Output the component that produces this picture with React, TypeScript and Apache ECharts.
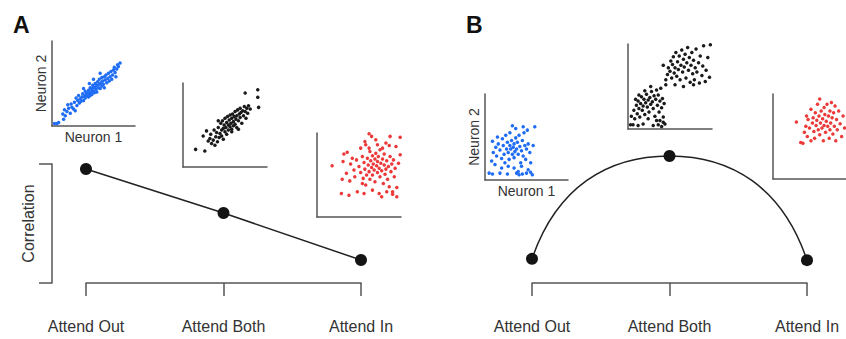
import React, { useEffect, useRef } from "react";
import * as echarts from "echarts";

// Main panels
const catLabels = ["Attend Out", "Attend Both", "Attend In"];
const corrA = [0.958, 0.588, 0.193];
const corrB = [0.19, 1.0, 0.18];

// Inset scatter clouds (normalised 0-100 in each inset)
const a1Blue = [[3,3],[6,3],[8,4],[14,8],[13,14],[16,12],[18,17],[15,19],[20,21],[22,15],[24,22],[19,25],[26,20],[27,28],[23,26],[28,18],[30,24],[31,30],[29,33],[33,27],[34,32],[35,29],[32,36],[36,34],[37,38],[38,30],[39,35],[40,33],[41,37],[40,41],[42,36],[43,39],[44,34],[44,42],[45,38],[46,45],[46,36],[47,40],[48,43],[48,37],[49,48],[50,41],[50,45],[51,39],[52,46],[52,50],[53,43],[54,48],[54,40],[55,52],[56,45],[57,49],[57,55],[58,44],[59,51],[60,47],[60,57],[61,53],[62,49],[63,58],[63,45],[64,54],[65,60],[66,51],[67,56],[68,62],[69,53],[70,58],[71,64],[72,55],[73,60],[74,66],[76,63],[77,58],[78,67],[80,70],[82,74],[79,72],[75,69],[58,62],[45,50],[38,44],[50,55]];
const a2Black = [[15,21],[26,19],[24,37],[28,43],[32,34],[30,31],[34,28],[33,39],[36,32],[37,44],[38,26],[39,36],[40,41],[41,30],[42,47],[43,35],[44,40],[45,52],[46,44],[46,37],[47,55],[48,46],[48,33],[49,50],[50,42],[50,58],[51,47],[52,53],[52,39],[53,60],[54,50],[54,44],[55,56],[56,48],[56,62],[57,52],[58,58],[58,45],[59,63],[60,54],[60,49],[61,60],[62,66],[62,51],[63,57],[64,61],[64,47],[65,68],[66,55],[67,63],[68,59],[68,70],[69,65],[70,52],[71,67],[72,61],[73,72],[74,66],[75,58],[76,70],[77,64],[78,73],[80,69],[74,88],[89,92],[89,83],[90,71],[58,42],[42,55],[66,45]];
const a3Red = [[18,61],[29,28],[38,26],[56,28],[77,24],[95,24],[62,99],[65,96],[87,96],[99,95],[32,75],[36,77],[31,66],[40,63],[44,56],[35,52],[30,45],[39,43],[45,48],[47,68],[50,60],[52,53],[54,72],[55,46],[56,65],[57,57],[58,38],[59,50],[60,70],[61,62],[62,54],[63,78],[63,45],[64,67],[65,59],[66,73],[66,50],[67,63],[68,56],[69,69],[69,42],[70,76],[71,61],[72,53],[72,66],[73,72],[74,58],[75,48],[75,80],[76,64],[77,55],[78,69],[79,40],[80,62],[80,75],[81,51],[82,57],[83,67],[84,45],[85,60],[86,36],[87,72],[88,54],[89,63],[90,30],[91,68],[92,48],[93,58],[95,35],[97,64],[99,74],[58,86],[57,90],[72,86],[82,88],[86,85],[48,30],[66,32],[74,28],[83,30],[90,27],[42,70],[52,82],[62,82],[78,82],[94,84],[70,92],[54,40]];
const b1Blue = [[5,8],[9,7],[18,8],[27,7],[38,8],[41,6],[45,7],[50,8],[55,9],[57,6],[40,10],[52,12],[8,22],[12,18],[14,28],[10,32],[13,38],[16,42],[9,45],[18,35],[20,25],[21,48],[22,40],[23,30],[24,20],[25,52],[26,36],[27,44],[28,32],[29,24],[30,55],[30,40],[31,36],[32,46],[33,30],[34,38],[35,42],[35,26],[36,33],[37,49],[37,60],[38,36],[39,44],[40,30],[41,52],[42,39],[43,20],[44,34],[45,46],[46,28],[47,55],[48,40],[49,24],[50,36],[51,58],[52,42],[54,32],[55,20],[58,40],[60,62],[46,62],[33,63],[28,16],[35,14],[44,16],[15,50],[20,14]];
const b2Black = [[3,5],[6,5],[12,4],[18,6],[30,4],[36,5],[40,3],[42,8],[38,10],[44,6],[4,15],[7,22],[8,12],[10,28],[11,18],[12,33],[13,24],[14,14],[15,30],[16,38],[17,22],[18,27],[19,35],[20,17],[21,31],[22,41],[23,26],[24,34],[25,20],[26,37],[27,29],[28,44],[29,32],[30,24],[31,39],[32,15],[33,35],[34,46],[35,28],[36,40],[37,20],[38,33],[39,48],[40,25],[41,36],[42,14],[43,30],[45,52],[34,10],[24,12],[27,50],[20,45],[13,40],[9,35],[42,75],[45,58],[47,64],[48,72],[50,68],[51,80],[52,60],[53,76],[54,85],[55,66],[56,72],[57,90],[58,62],[59,79],[60,70],[61,86],[62,58],[63,75],[64,93],[65,67],[66,82],[67,73],[68,88],[69,60],[70,78],[71,96],[72,69],[73,84],[74,55],[75,75],[76,90],[77,65],[78,81],[79,58],[80,72],[81,94],[82,67],[84,78],[85,54],[86,86],[88,63],[89,74],[90,98],[92,56],[93,69],[95,84],[97,61],[98,99],[78,52],[66,50],[56,52]];
const b3Red = [[32,67],[38,43],[41,42],[43,55],[45,62],[46,74],[47,50],[48,70],[50,60],[52,82],[52,45],[54,66],[55,72],[56,56],[57,48],[58,78],[59,63],[60,69],[61,88],[62,58],[63,74],[64,94],[64,52],[65,66],[66,80],[67,60],[68,71],[69,45],[70,84],[70,63],[71,76],[72,55],[73,68],[74,88],[75,62],[76,74],[77,48],[78,80],[78,58],[79,66],[80,90],[81,72],[82,53],[83,78],[84,62],[85,86],[86,45],[87,70],[88,58],[90,80],[92,65],[94,50],[96,74],[98,60]];

const FONT = "Liberation Sans, Arial, Helvetica, sans-serif";
const AXIS_COLOR = "#555";
const TEXT_COLOR = "#333";

export default function App() {
  const ref = useRef<HTMLDivElement>(null);
  useEffect(() => {
    if (!ref.current) return;
    const chart = echarts.init(ref.current, null, { renderer: "svg" });

    const insetGrids = [
      { left: 52, top: 41, width: 83, height: 85 },
      { left: 183, top: 83, width: 84, height: 84 },
      { left: 317, top: 133, width: 84, height: 84 },
      { left: 485, top: 94, width: 83, height: 86 },
      { left: 628, top: 44, width: 84, height: 85 },
      { left: 773, top: 94, width: 84, height: 85 },
    ];
    const insetData = [a1Blue, a2Black, a3Red, b1Blue, b2Black, b3Red];
    const insetColors = ["#1f6cf5", "#1a1a1a", "#ec3a3a", "#1f6cf5", "#1a1a1a", "#ec3a3a"];
    const named = [true, false, false, true, false, false];

    const grids: any[] = [
      { left: 86, top: 164, width: 275, height: 119 },
      { left: 532, top: 156, width: 275, height: 127 },
      ...insetGrids,
    ];

    const bracketX = (gi: number) => ({
      type: "category",
      gridIndex: gi,
      data: catLabels,
      boundaryGap: false,
      offset: 16,
      axisLine: { show: true, lineStyle: { color: AXIS_COLOR, width: 1.5 } },
      axisTick: { show: true, length: 13, interval: 0, lineStyle: { color: AXIS_COLOR, width: 1.5 } },
      axisLabel: { show: true, interval: 0, margin: 19, color: TEXT_COLOR, fontSize: 16, fontFamily: FONT },
      splitLine: { show: false },
    });

    const xAxes: any[] = [bracketX(0), bracketX(1)];
    const yAxes: any[] = [
      {
        type: "value",
        gridIndex: 0,
        min: 0,
        max: 1,
        interval: 1,
        offset: 34,
        axisLine: { show: true, onZero: false, lineStyle: { color: AXIS_COLOR, width: 1.5 } },
        axisTick: { show: true, length: 13, lineStyle: { color: AXIS_COLOR, width: 1.5 } },
        axisLabel: { show: false },
        splitLine: { show: false },
        name: "Correlation",
        nameLocation: "middle",
        nameRotate: 90,
        nameGap: 16,
        nameTextStyle: { fontSize: 16, color: TEXT_COLOR, fontFamily: FONT },
      },
      { type: "value", gridIndex: 1, min: 0, max: 1, show: false },
    ];

    insetGrids.forEach((_, k) => {
      const gi = k + 2;
      xAxes.push({
        type: "value",
        gridIndex: gi,
        min: 0,
        max: 100,
        axisLine: { show: true, onZero: false, lineStyle: { color: AXIS_COLOR, width: 1.5 } },
        axisTick: { show: false },
        axisLabel: { show: false },
        splitLine: { show: false },
        name: named[k] ? "Neuron 1" : "",
        nameLocation: "middle",
        nameGap: 4,
        nameTextStyle: { fontSize: 14, color: TEXT_COLOR, fontFamily: FONT },
      });
      yAxes.push({
        type: "value",
        gridIndex: gi,
        min: 0,
        max: 100,
        axisLine: { show: true, onZero: false, lineStyle: { color: AXIS_COLOR, width: 1.5 } },
        axisTick: { show: false },
        axisLabel: { show: false },
        splitLine: { show: false },
        name: named[k] ? "Neuron 2" : "",
        nameLocation: "middle",
        nameRotate: 90,
        nameGap: 4,
        nameTextStyle: { fontSize: 14, color: TEXT_COLOR, fontFamily: FONT },
      });
    });

    const series: any[] = [
      {
        type: "line",
        xAxisIndex: 0,
        yAxisIndex: 0,
        data: corrA,
        symbol: "circle",
        symbolSize: 12,
        lineStyle: { color: "#222", width: 1.5 },
        itemStyle: { color: "#141414", opacity: 1 },
        z: 3,
      },
      {
        type: "custom",
        xAxisIndex: 1,
        yAxisIndex: 1,
        data: corrB.map((v, i) => [i, v]),
        clip: false,
        renderItem: (params: any, api: any) => {
          const i = params.dataIndex;
          if (i >= corrB.length - 1) return null;
          const p0 = api.coord([i, corrB[i]]);
          const p1 = api.coord([i + 1, corrB[i + 1]]);
          const dx = p1[0] - p0[0];
          const dy = p1[1] - p0[1];
          let cp1: number[];
          let cp2: number[];
          if (dy < 0) {
            cp1 = [p0[0] + 0.18 * dx, p0[1] + 0.7 * dy];
            cp2 = [p1[0] - 0.45 * dx, p1[1]];
          } else {
            cp1 = [p0[0] + 0.45 * dx, p0[1]];
            cp2 = [p1[0] - 0.18 * dx, p1[1] - 0.7 * dy];
          }
          return {
            type: "bezierCurve",
            shape: {
              x1: p0[0], y1: p0[1], x2: p1[0], y2: p1[1],
              cpx1: cp1[0], cpy1: cp1[1], cpx2: cp2[0], cpy2: cp2[1],
            },
            style: { stroke: "#222", lineWidth: 1.5, fill: "none" },
          };
        },
        z: 2,
      },
      {
        type: "scatter",
        xAxisIndex: 1,
        yAxisIndex: 1,
        data: corrB,
        symbol: "circle",
        symbolSize: 12,
        itemStyle: { color: "#141414", opacity: 1 },
        z: 4,
      },
    ];

    insetData.forEach((d, k) => {
      series.push({
        type: "scatter",
        xAxisIndex: k + 2,
        yAxisIndex: k + 2,
        data: d,
        symbol: "circle",
        symbolSize: 3.5,
        itemStyle: { color: insetColors[k], opacity: 1 },
        clip: false,
      });
    });

    chart.setOption({
      animation: false,
      backgroundColor: "#ffffff",
      title: [
        { text: "A", left: 8, top: 8, textStyle: { fontSize: 23, fontWeight: "bold", color: "#111", fontFamily: FONT } },
        { text: "B", left: 461, top: 8, textStyle: { fontSize: 23, fontWeight: "bold", color: "#111", fontFamily: FONT } },
      ],
      grid: grids,
      xAxis: xAxes,
      yAxis: yAxes,
      series,
    });
    return () => chart.dispose();
  }, []);
  return <div ref={ref} style={{ position: "absolute", left: 0, top: 0, width: 846, height: 339 }} />;
}
